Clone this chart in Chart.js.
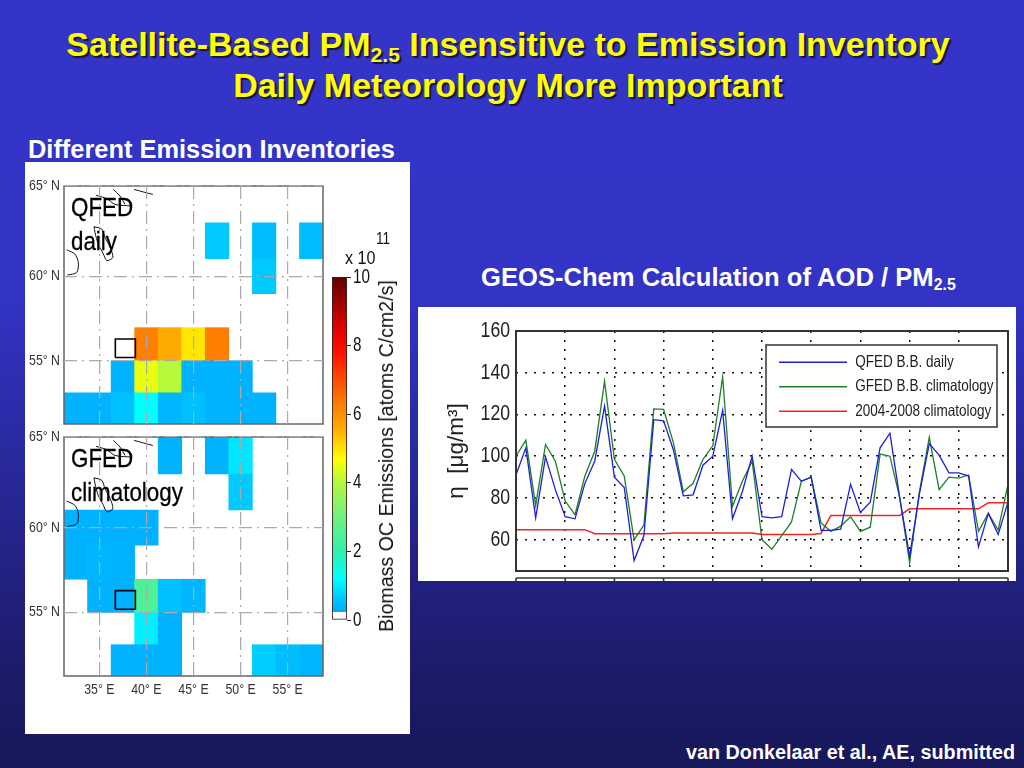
<!DOCTYPE html>
<html>
<head>
<meta charset="utf-8">
<script src="https://cdn.jsdelivr.net/npm/chart.js@4"></script>
<style>
html,body{margin:0;padding:0;width:1024px;height:768px;overflow:hidden;background:linear-gradient(#3434c8 0,#3333c6 38%,#1c1c6c 86%,#17175a 100%);font-family:"Liberation Sans",Arial,sans-serif}
.abs{position:absolute;white-space:nowrap}
canvas{position:absolute}
.panel{position:absolute;background:#fff}
#title{left:0;width:1016px;top:24px;text-align:center;color:#ff0;font-weight:bold;font-size:34px;line-height:41px;text-shadow:2px 2px 1px #15153a}
sub{font-size:.62em;line-height:0;vertical-align:-.28em}
.head{color:#fff;font-weight:bold;font-size:25.4px;line-height:28px}
.mapnote{color:#000;font-size:26px;line-height:34px;transform:scaleX(.86);transform-origin:left top;-webkit-text-stroke:.3px #000}
.note{color:#111;font-size:19px;line-height:20px;transform:scaleX(.85);transform-origin:left top}
</style>
</head>
<body>
<div class="panel" style="left:25px;top:162px;width:385px;height:572px"></div>
<div class="panel" style="left:418px;top:307px;width:598px;height:274px"></div>

<div class="abs" id="title">Satellite-Based PM<sub>2.5</sub> Insensitive to Emission Inventory<br>Daily Meteorology More Important</div>
<div class="abs head" style="left:28px;top:135px">Different Emission Inventories</div>
<div class="abs head" style="left:481px;top:263px;font-size:25.6px">GEOS-Chem Calculation of AOD / PM<sub>2.5</sub></div>
<div class="abs" style="right:9px;top:741px;color:#fff;font-weight:bold;font-size:19.8px;line-height:22px">van Donkelaar et al., AE, submitted</div>

<canvas id="mapTop" width="305" height="252" style="left:25px;top:176px"></canvas>
<canvas id="mapBottom" width="305" height="278" style="left:25px;top:428px"></canvas>
<canvas id="colorbar" width="60" height="380" style="left:325px;top:262px"></canvas>
<canvas id="lines" width="598" height="274" style="left:418px;top:307px"></canvas>

<div class="abs mapnote" style="left:71px;top:190px">QFED</div>
<div class="abs mapnote" style="left:71px;top:224px">daily</div>
<div class="abs mapnote" style="left:71px;top:441px">GFED</div>
<div class="abs mapnote" style="left:71px;top:475px">climatology</div>
<div class="abs note" style="left:345px;top:248px">x 10</div>
<div class="abs note" style="left:376px;top:229px;font-size:16px">11</div>
<div class="abs" style="left:386px;top:456px;color:#111;font-size:19.6px;line-height:20px;transform:translate(-50%,-50%) rotate(-90deg)">Biomass OC Emissions [atoms C/cm2/s]</div>

<script>
/* ---------- line chart data ---------- */
const dayIndex = [0,1,2,3,4,5,6,7,8,9,10,11,12,13,14,15,16,17,18,19,20,21,22,23,24,25,26,27,28,29,30,31,32,33,34,35,36,37,38,39,40,41,42,43,44,45,46,47,48,49,50];
const qfedDaily = [91,104,70.5,99.7,84,71,70,87,97.6,124,90,85,50,62,117.5,117,103,81,81.5,95.7,100,122,70,83,100,71,70.5,71,93.7,88,90,64.5,64.5,65,86.5,73,78,104,111,80,52,82,106,100.5,92,92,90.5,56.5,72.6,62.5,78];
const gfedClimatology = [100,107.7,76.4,105.6,97.6,78.5,72,90.5,102.4,136,98.5,90.5,60,67,122.7,122.4,106.4,83,87,98.5,105,138,76,88,97.6,60,55.4,62,68.5,88,90,68,64,66.5,71,64,66,101,100,80,49,83,109,84,90,89.5,91,64,72.6,64.6,86.5];
const climatology2004to2008 = [64.8,64.8,64.8,64.8,64.8,64.8,64.8,64.8,62.9,62.9,62.9,62.9,62.9,62.9,62.9,62.9,63.2,63.2,63.2,63.2,63.2,63.2,63.2,63.2,63.2,62.5,62.5,62.5,62.5,62.5,62.5,63,71.6,71.6,71.6,71.6,71.6,71.6,71.6,71.6,74.8,74.8,74.8,74.8,74.8,74.8,74.8,74.8,77.7,77.7,77.7];
const etaTicks = [60,80,100,120,140,160];

/* ---------- map data (emissions, x 10^11 atoms C/cm2/s) ---------- */
const lonCentres = [32.5,35,37.5,40,42.5,45,47.5,50,52.5,55,57.5];
const latEdges = [65,63,61,59,57,55,53,51];
const lonTicks = [35,40,45,50,55];
const latTicks = [65,60,55];
const qfedCells = [
  [null,null,null,null,null,null,null,null,null,null,null],
  [null,null,null,null,null,null,0.65,null,0.5,null,0.5],
  [null,null,null,null,null,null,null,null,0.65,null,null],
  [null,null,null,null,null,null,null,null,null,null,null],
  [null,null,null,6.25,5.6,4.95,6.3,null,null,null,null],
  [null,null,0.35,4.5,4.05,0.35,0.35,0.35,null,null,null],
  [0.35,0.35,0.55,1.2,0.42,0.55,0.35,0.35,0.35,null,null]
];
const gfedCells = [
  [null,null,null,null,0.35,null,0.35,0.95,null,null,null],
  [null,null,null,null,null,null,null,0.65,null,null,null],
  [0.35,0.35,0.35,0.35,null,null,null,null,null,null,null],
  [0.35,0.42,0.35,null,null,null,null,null,null,null,null],
  [null,0.35,0.35,2.5,0.55,0.42,null,null,null,null,null],
  [null,null,null,1.05,0.35,null,null,null,null,null,null],
  [null,null,0.35,0.35,0.35,null,null,null,0.7,0.5,0.42]
];
/* station box and coastline fragments, lon/lat */
const stationLon = [36.7,38.83,38.83,36.7,36.7];
const stationLat = [55.2,55.2,56.32,56.32,55.2];
const coastLons = [
  [38.69,39.68,40.68],
  [36.49,37.2,37.73],
  [34.65,35.79,36.67,38.45],
  [38.09,38.45,38.27],
  [34.44,35.26,35.6,36.14,36.43,35.79,35.43,34.89,34.54,34.44],
  [31.53,32.41,32.77,32.6,31.6]
];
const coastLats = [
  [64.82,64.68,64.55],
  [64.82,64.46,64.01],
  [64.5,64.32,64.01,63.92],
  [64.28,64.01,63.56],
  [62.79,62.65,62.2,61.65,61.07,60.9,61.27,61.81,62.47,62.79],
  [61.5,61.26,60.79,60.22,60.07]
];
/* colour bar */
const colorValues = [0.22,0.6,1.2,2,3,4,4.7,5.5,6.5,7.8,8.5,10];
const colorHex = ['#00a8ff','#00c4ff','#00ffff','#30f0b0','#70f080','#b0f840','#ffff00','#ffb000','#ff7000','#ff1000','#e00000','#600000'];
const colorbarTicks = [0,2,4,6,8,10];
const colorbarRange = [0,10];

/* ---------- helpers ---------- */
const sans = '"Liberation Sans",Arial,sans-serif';
Chart.defaults.animation = false;
Chart.defaults.font.family = sans;

/* the original's labels are horizontally squeezed: draw canvas text condensed */
function condensed(id,factor){
  const canvas=document.getElementById(id),ctx=canvas.getContext('2d'),orig=ctx.fillText.bind(ctx);
  ctx.fillText=function(t,x,y,m){
    if(String(t).startsWith('η')){orig(t,x,y,m);return;}
    ctx.save();ctx.translate(x,y);ctx.scale(factor,1);orig(t,0,0,m);ctx.restore();
  };
  return canvas;
}
function hexToRgb(h){return [1,3,5].map(i=>parseInt(h.substr(i,2),16));}
function colourOf(v){
  if(v==null||v<colorValues[0]) return '#ffffff';
  for(let i=1;i<colorValues.length;i++){
    if(v<=colorValues[i]){
      const t=(v-colorValues[i-1])/(colorValues[i]-colorValues[i-1]);
      const a=hexToRgb(colorHex[i-1]),b=hexToRgb(colorHex[i]);
      return 'rgb('+a.map((c,k)=>Math.round(c+(b[k]-c)*t)).join(',')+')';
    }
  }
  return colorHex[colorHex.length-1];
}
function noEdgePadding(s){s.paddingTop=0;s.paddingBottom=0;s.paddingLeft=0;s.paddingRight=0;}

/* latitude axis of the map projection: spacing shrinks towards the equator */
class ProjectedLatScale extends Chart.LinearScale{
  _frac(v){const k=0.00633,D=this.max-this.min,d=this.max-v;return d*(1-k*d)/(D*(1-k*D));}
  getPixelForValue(v){return this.top+this._frac(v)*(this.bottom-this.top);}
  getValueForPixel(p){return this.max-(p-this.top)/(this.bottom-this.top)*(this.max-this.min);}
}
ProjectedLatScale.id='projectedLat';
ProjectedLatScale.defaults=Chart.LinearScale.defaults;
Chart.register(ProjectedLatScale);

const mapFrame={id:'mapFrame',afterDatasetsDraw(c){
  const a=c.chartArea,x=c.ctx;x.save();x.strokeStyle='#666';x.lineWidth=1.5;
  x.strokeRect(a.left,a.top,a.right-a.left,a.bottom-a.top);x.restore();
}};

function makeMap(id,cells,showLon,padTop,axisHeight){
  const data=cells.flatMap((row,r)=>row.flatMap((v,c)=>v==null?[]:[{x:lonCentres[c],y:[latEdges[r+1],latEdges[r]],v}]));
  const coast=coastLons.map((lons,i)=>({type:'line',label:'coast'+i,data:lons.map((lon,k)=>({x:lon,y:coastLats[i][k]})),
    borderColor:'#111',borderWidth:1,pointRadius:0,tension:0.3,fill:false}));
  new Chart(condensed(id,0.85),{
    type:'bar',
    data:{datasets:[
      {label:'Biomass OC Emissions',data,backgroundColor:ctx=>colourOf(ctx.raw&&ctx.raw.v),borderWidth:0,barPercentage:1,categoryPercentage:1,grouped:false,order:3},
      ...coast.map(d=>({...d,order:1})),
      {type:'line',label:'station',data:stationLon.map((lon,k)=>({x:lon,y:stationLat[k]})),borderColor:'#000',borderWidth:1.6,pointRadius:0,tension:0,fill:false,order:0}
    ]},
    plugins:[mapFrame],
    options:{responsive:false,
      layout:{padding:{top:padTop,right:7,left:0,bottom:0}},
      plugins:{legend:{display:false},tooltip:{enabled:false}},
      scales:{
        x:{type:'linear',min:31.25,max:58.75,offset:false,
          afterBuildTicks:s=>{s.ticks=lonTicks.map(v=>({value:v}));},
          afterFit:s=>{s.height=axisHeight;noEdgePadding(s);},
          grid:{offset:false,z:1,color:'#aaa',lineWidth:1.2,drawTicks:false},
          border:{display:false,dash:[13,5,2,5]},
          ticks:{display:showLon,autoSkip:false,maxRotation:0,minRotation:0,padding:5,color:'#333',font:{size:14.5},callback:v=>v+'° E'}},
        y:{type:'projectedLat',min:51,max:65,
          afterBuildTicks:s=>{s.ticks=latTicks.map(v=>({value:v}));},
          afterFit:s=>{s.width=39;noEdgePadding(s);},
          grid:{z:1,color:'#aaa',lineWidth:1.2,drawTicks:false},
          border:{display:false,dash:[13,5,2,5]},
          ticks:{padding:4,color:'#333',font:{size:14.5},callback:v=>v+'° N'}}
      }
    }
  });
}
makeMap('mapTop',qfedCells,false,10,4);
makeMap('mapBottom',gfedCells,true,9,30);

/* ---------- colour bar ---------- */
new Chart(condensed('colorbar',0.76),{
  type:'bar',
  data:{labels:['emissions'],datasets:[{label:'Biomass OC Emissions',data:[colorbarRange],
    backgroundColor(ctx){
      const y=ctx.chart.scales.y; if(!y) return '#fff';
      const y0=y.getPixelForValue(0),y1=y.getPixelForValue(10);
      if(!isFinite(y0)||!isFinite(y1)) return '#fff';
      const g=ctx.chart.ctx.createLinearGradient(0,y0,0,y1);
      const f=v=>v/10;
      g.addColorStop(0,'#ffffff');g.addColorStop(f(colorValues[0]),'#ffffff');
      colorValues.forEach((v,i)=>g.addColorStop(Math.min(1,f(v)+(i==0?0.0001:0)),colorHex[i]));
      return g;
    },
    borderColor:'#3a2020',borderWidth:1.2,borderSkipped:false,barPercentage:1,categoryPercentage:1}]},
  options:{responsive:false,
    layout:{padding:{left:7,top:15,right:0,bottom:0}},
    plugins:{legend:{display:false},tooltip:{enabled:false}},
    scales:{
      x:{type:'category',display:true,afterFit:s=>{s.height=22;noEdgePadding(s);},grid:{display:false},border:{display:false},ticks:{display:false}},
      y:{type:'linear',position:'right',min:0,max:10,
        afterBuildTicks:s=>{s.ticks=colorbarTicks.map(v=>({value:v}));},
        afterFit:s=>{s.width=38;noEdgePadding(s);},
        grid:{display:true,drawOnChartArea:false,drawTicks:true,tickLength:4,color:'#222',tickColor:'#222'},
        border:{display:false},
        ticks:{padding:2,color:'#111',font:{size:20}}}
    }
  }
});

/* ---------- line chart ---------- */
const legendAndFrame={id:'legendAndFrame',
  afterLayout(c){
    const l=c.legend;
    const pad=c.options.plugins.legend.labels.padding;
    l.left=779-418-pad; l.top=345-307+1; l.right=c.width; l.bottom=c.height;
  },
  afterDatasetsDraw(c){
    const x=c.ctx,a=c.chartArea,s=c.scales.x;x.save();
    x.strokeStyle='#333';x.lineWidth=2;
    x.strokeRect(a.left,a.top,a.right-a.left,a.bottom-a.top);
    x.fillStyle='#fff';x.lineWidth=1.5;x.fillRect(766-418,345-307,231,82);x.strokeRect(766-418,345-307,231,82);
    /* top edge of the panel below, cut off by the slide's white box */
    const top=a.bottom+7;
    x.lineWidth=1.6;x.strokeStyle='#333';x.beginPath();x.moveTo(a.left,top);x.lineTo(a.right,top);
    s.ticks.forEach(t=>{const p=s.getPixelForValue(t.value);x.moveTo(p,top);x.lineTo(p,c.height);});
    x.stroke();
    x.restore();
    c.legend.draw();
  }
};
new Chart(condensed('lines',0.82),{
  type:'line',
  data:{labels:dayIndex,datasets:[
    {label:'QFED B.B. daily',data:qfedDaily,borderColor:'#1f1fd8',backgroundColor:'#1f1fd8',borderWidth:1.3,pointRadius:0,tension:0},
    {label:'GFED B.B. climatology',data:gfedClimatology,borderColor:'#1f7d2a',backgroundColor:'#1f7d2a',borderWidth:1.3,pointRadius:0,tension:0},
    {label:'2004-2008 climatology',data:climatology2004to2008,borderColor:'#f02525',backgroundColor:'#f02525',borderWidth:1.5,pointRadius:0,tension:0}
  ]},
  plugins:[legendAndFrame],
  options:{responsive:false,
    layout:{padding:{top:24,right:8,left:0,bottom:0}},
    plugins:{tooltip:{enabled:false},
      legend:{display:true,position:'chartArea',align:'start',
        labels:{usePointStyle:true,pointStyle:'line',pointStyleWidth:68,boxHeight:14,padding:8,color:'#222',font:{size:16.5,family:sans}}}},
    scales:{
      x:{type:'linear',min:0,max:50,
        ticks:{display:false,stepSize:5},
        afterFit:s=>{s.height=10;noEdgePadding(s);},
        grid:{color:'#111',lineWidth:1.5,drawTicks:false},
        border:{display:false,dash:[2,7]}},
      y:{type:'linear',min:45,max:160,
        afterBuildTicks:s=>{s.ticks=etaTicks.map(v=>({value:v}));},
        afterFit:s=>{s.width=98;noEdgePadding(s);},
        grid:{color:'#111',lineWidth:1.5,drawTicks:false},
        border:{display:false,dash:[2,7]},
        title:{display:true,text:'η  [μg/m³]',color:'#222',font:{size:22.5,family:sans},padding:{top:25,bottom:0}},
        ticks:{padding:6,color:'#222',font:{size:21.5}}}
    }
  }
});
</script>
</body>
</html>
